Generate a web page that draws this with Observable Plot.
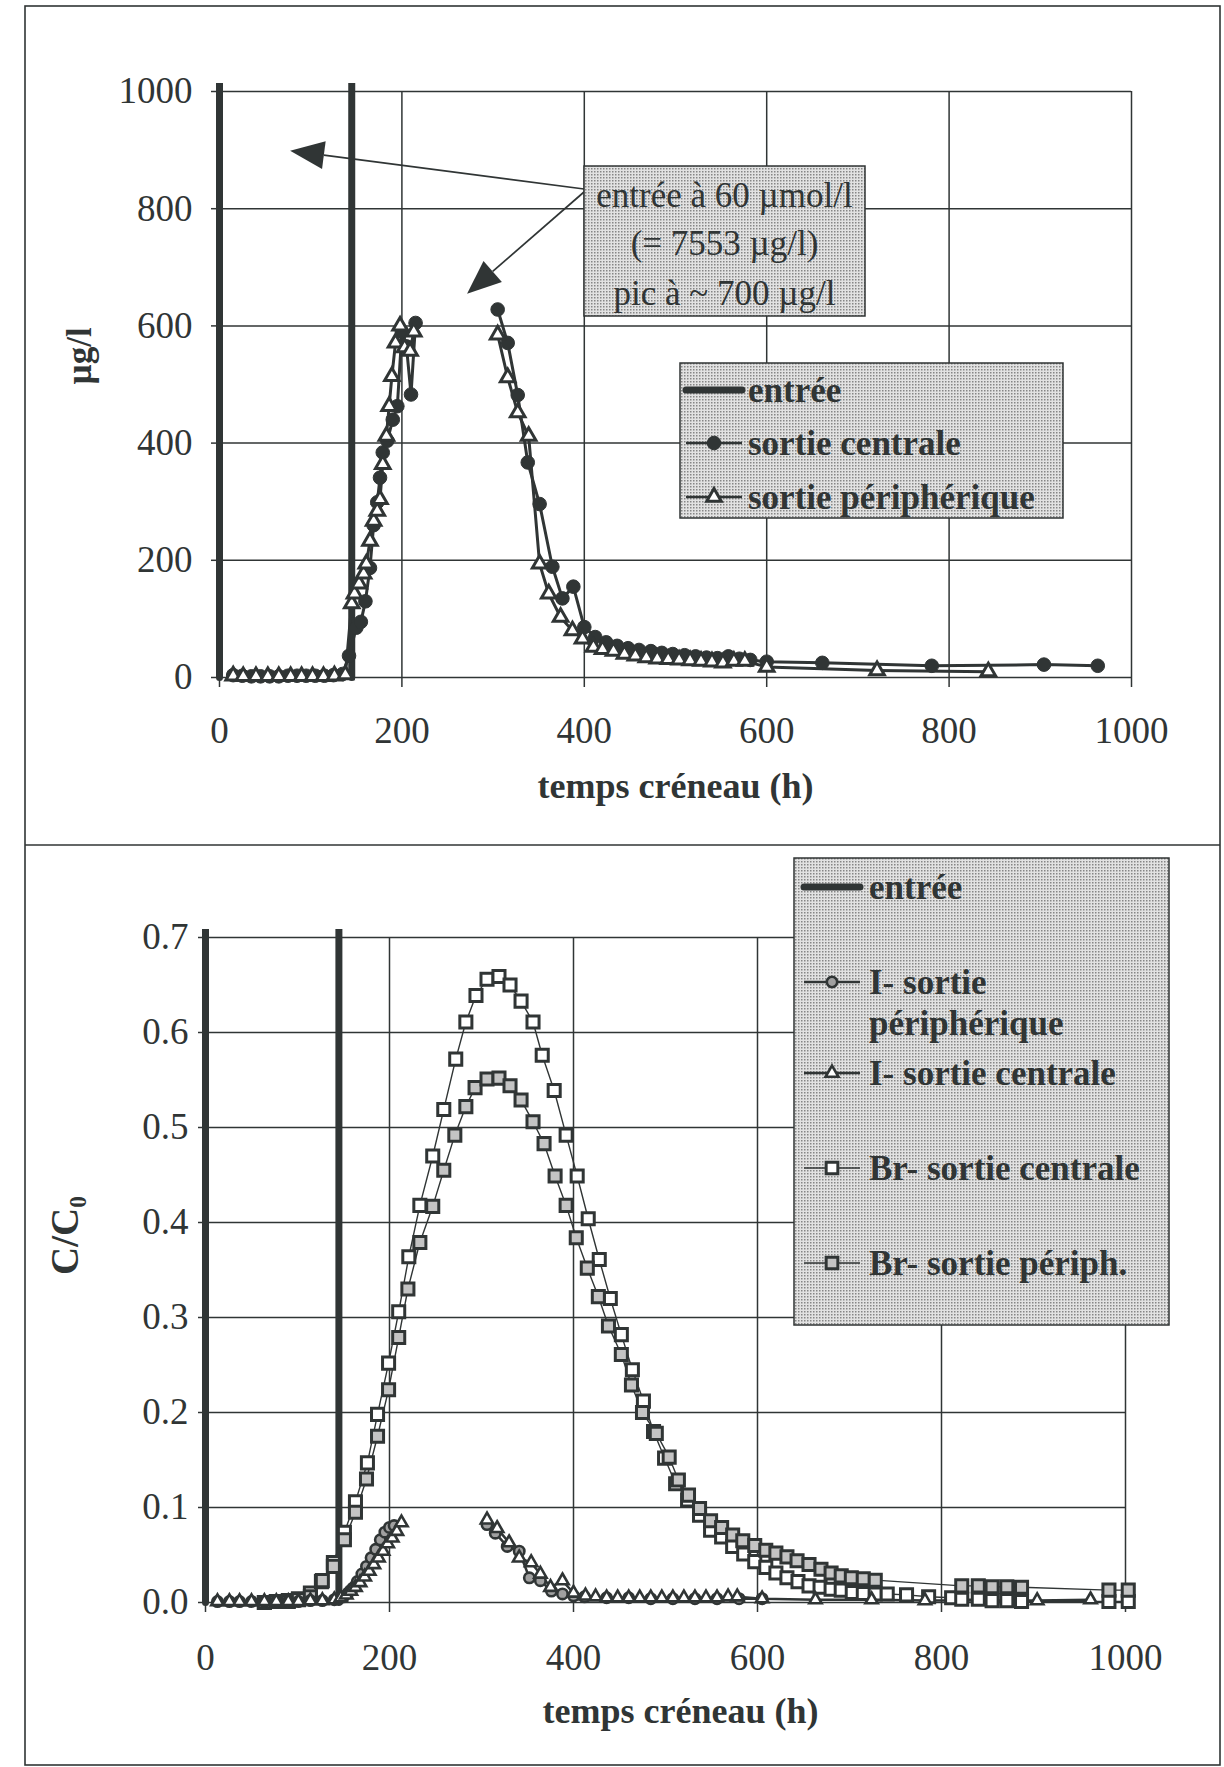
<!DOCTYPE html>
<html><head><meta charset="utf-8">
<script src="https://cdn.jsdelivr.net/npm/d3@7"></script>
<script src="https://cdn.jsdelivr.net/npm/@observablehq/plot@0.6"></script>
<style>
html,body{margin:0;padding:0;background:#fff;}
#wrap{position:relative;width:1224px;height:1767px;overflow:hidden;background:#fff;}
#top,#bottom{position:absolute;left:0;}
#top{top:0}
#bottom{top:845px}
</style></head><body><div id="wrap"><div id="top"></div><div id="bottom"></div></div>
<script>
const INK = "#303535";
const FONT = "'Liberation Serif','Times New Roman',serif";

// ---------- ticks ----------
const xTicks = [0, 200, 400, 600, 800, 1000];
const yTicksTop = [0, 200, 400, 600, 800, 1000];
const yTicksBottom = [0, 0.1, 0.2, 0.3, 0.4, 0.5, 0.6, 0.7];

// ---------- labels ----------
const xTitle = "temps créneau (h)";
const yTitleTop = "µg/l";
const yTitleBottom = "C/C₀";
const annotationLines = ["entrée à 60 µmol/l", "(= 7553 µg/l)", "pic à ~ 700 µg/l"];
const annotationTargets = [[78, 898], [272, 654]];
const legendTop = ["entrée", "sortie centrale", "sortie périphérique"];
const legendBottom = ["entrée", "I- sortie|périphérique", "I- sortie centrale", "Br- sortie centrale", "Br- sortie périph."];

// ---------- data: top panel (µg/l) ----------
const entreeTop = [[0, 0], [0, 7553], [145, 7553], [145, 0]];
const topCentral = [
 [15,4],[25,3],[35,2],[45,2],[55,2],[65,2],[75,3],[85,3],[95,3],[105,3],[115,3],[125,4],[135,6],[142,37],[150,85],[155,95],[160,130],[165,187],[169,260],[173,299],[176,341],[179,384],[184,404],[190,440],[195,463],[200,590],[205,565],[210,483],[215,605],
 null,
 [305,628],[316,571],[327,482],[338,367],[351,296],[365,189],[376,135],[388,155],[400,86],[412,69],[424,60],[436,54],[448,50],[460,47],[473,45],[485,42],[497,40],[510,38],[522,36],[534,34],[546,33],[558,36],[570,32],[582,30],[600,27],[661,25],[781,20],[904,22],[963,20]
];
const topPeripheral = [
 [15,3],[26,2],[40,2],[53,2],[65,2],[78,2],[90,2],[102,2],[114,2],[126,3],[138,5],[145,126],[148,143],[153,160],[158,177],[161,194],[165,233],[169,267],[173,284],[176,304],[179,364],[183,412],[186,463],[189,514],[193,571],[198,600],[203,563],[209,557],[213,590],
 null,
 [305,585],[316,512],[327,452],[339,412],[351,194],[361,143],[374,103],[387,80],[398,66],[410,52],[420,48],[432,45],[444,40],[456,37],[468,34],[480,32],[492,31],[504,30],[516,29],[528,28],[540,27],[552,25],[564,28],[576,28],[600,18],[721,12],[843,10]
];

// ---------- data: bottom panel (C/C0) ----------
const entreeBottom = [[0, 0], [0, 1], [145, 1], [145, 0]];
const iPeripheral = [
 [13,0.001],[26,0.001],[37,0.001],[50,0.001],[64,0.001],[77,0.001],[90,0.001],[101,0.001],[114,0.002],[127,0.002],[140,0.003],[145,0.004],[150,0.006],[155,0.010],[160,0.015],[165,0.022],[170,0.030],[175,0.038],[180,0.047],[185,0.056],[190,0.066],[195,0.074],[200,0.079],[205,0.081],
 null,
 [306,0.082],[315,0.073],[328,0.059],[341,0.054],[352,0.026],[364,0.023],[376,0.012],[388,0.009],[400,0.007],[412,0.006],[436,0.005],[460,0.005],[484,0.004],[508,0.004],[532,0.004],[556,0.004],[580,0.004],[605,0.004]
];
const iCentral = [
 [13,0.001],[26,0.001],[37,0.001],[50,0.001],[64,0.001],[77,0.001],[90,0.001],[101,0.001],[114,0.002],[127,0.002],[140,0.003],[147,0.005],[153,0.008],[158,0.012],[163,0.016],[168,0.021],[173,0.027],[178,0.033],[183,0.040],[188,0.047],[193,0.054],[198,0.062],[203,0.068],[208,0.075],[213,0.084],
 null,
 [306,0.087],[317,0.078],[330,0.063],[341,0.047],[354,0.042],[364,0.030],[375,0.016],[388,0.023],[400,0.010],[413,0.007],[424,0.006],[436,0.005],[448,0.005],[460,0.005],[472,0.005],[484,0.005],[496,0.005],[508,0.005],[520,0.005],[532,0.005],[544,0.005],[556,0.005],[568,0.006],[578,0.006],[605,0.004],[663,0.003],[724,0.003],[782,0.002],[904,0.002],[962,0.003]
];
const brCentral = [
 [64,0.000],[77,0.001],[90,0.002],[101,0.004],[114,0.010],[126,0.022],[139,0.042],[151,0.074],[163,0.106],[176,0.147],[187,0.198],[199,0.252],[210,0.306],[221,0.364],[233,0.418],[247,0.470],[259,0.519],[272,0.572],[283,0.611],[294,0.639],[306,0.656],[319,0.659],[331,0.650],[343,0.633],[356,0.611],[366,0.576],[379,0.539],[392,0.492],[404,0.449],[416,0.404],[428,0.361],[440,0.320],[452,0.282],[464,0.245],[476,0.212],[487,0.180],[499,0.152],[511,0.125],[524,0.108],[537,0.092],[549,0.076],[561,0.069],[573,0.059],[585,0.051],[597,0.043],[609,0.037],[620,0.031],[632,0.026],[644,0.022],[656,0.0175],[668,0.016],[680,0.014],[691,0.013],[703,0.0105],[715,0.0095],[728,0.009],[741,0.009],[762,0.008],[786,0.006],[811,0.005],[822,0.0035],[840,0.0035],[855,0.002],[871,0.002],[887,0.001],[982,0.001],[1003,0.001]
];
const brPeripheral = [
 [64,0.000],[77,0.001],[90,0.001],[101,0.003],[114,0.006],[127,0.023],[139,0.038],[151,0.066],[163,0.095],[175,0.130],[187,0.175],[199,0.224],[210,0.279],[220,0.330],[233,0.379],[247,0.417],[259,0.455],[271,0.492],[283,0.522],[293,0.542],[306,0.551],[319,0.552],[331,0.544],[343,0.529],[356,0.506],[368,0.483],[380,0.449],[392,0.418],[403,0.384],[415,0.352],[427,0.322],[438,0.291],[452,0.261],[463,0.229],[475,0.200],[490,0.178],[504,0.153],[514,0.129],[525,0.113],[537,0.099],[549,0.086],[561,0.079],[573,0.071],[584,0.065],[597,0.060],[609,0.055],[620,0.052],[632,0.048],[643,0.044],[656,0.040],[669,0.035],[680,0.031],[691,0.028],[702,0.026],[715,0.025],[728,0.0235],[822,0.0175],[840,0.0175],[855,0.0165],[871,0.0165],[887,0.016],[982,0.013],[1003,0.013]
];

const pts = arr => arr.map(d => d ? {x: d[0], y: d[1]} : {x: NaN, y: NaN});

function widenClip(svg) {
  svg.querySelectorAll("clipPath rect").forEach(r => {
    const x = +r.getAttribute("x"), y = +r.getAttribute("y");
    const w = +r.getAttribute("width"), h = +r.getAttribute("height");
    r.setAttribute("x", x - 8); r.setAttribute("y", y - 8);
    r.setAttribute("width", w + 16); r.setAttribute("height", h + 16);
  });
}

const baseStyle = {fontFamily: FONT, fontSize: "37px", color: INK, background: "transparent", overflow: "visible"};
const gridOpts = {stroke: INK, strokeOpacity: 1, strokeWidth: 1.5};

// ---------- top chart ----------
const topPlot = Plot.plot({
  width: 1224, height: 845,
  marginLeft: 219, marginRight: 93, marginTop: 91, marginBottom: 168,
  x: {domain: [0, 1000]}, y: {domain: [0, 1000]},
  style: baseStyle,
  marks: [
    Plot.gridY(yTicksTop, gridOpts),
    Plot.gridX(xTicks, gridOpts),
    Plot.axisX(xTicks, {tickSize: 10, tickPadding: 29, tickFormat: d => String(d), label: null, fontSize: 37, stroke: INK, strokeWidth: 1.5}),
    Plot.axisY(yTicksTop, {tickSize: 8, tickPadding: 19, tickFormat: d => String(d), label: null, fontSize: 37, stroke: INK, strokeWidth: 1.5}),
    Plot.line(pts(entreeTop), {x: "x", y: "y", stroke: INK, strokeWidth: 7, clip: true}),
    Plot.line(pts(topCentral), {x: "x", y: "y", stroke: INK, strokeWidth: 3}),
    Plot.line(pts(topPeripheral), {x: "x", y: "y", stroke: INK, strokeWidth: 3}),
    Plot.dot(pts(topCentral), {x: "x", y: "y", r: 6.8, fill: INK, stroke: INK, strokeWidth: 1}),
    Plot.dot(pts(topPeripheral), {x: "x", y: "y", symbol: "triangle", r: 5.4, fill: "white", stroke: INK, strokeWidth: 3}),
    Plot.text([xTitle], {text: d => d, frameAnchor: "bottom", dy: 120, fontWeight: "bold", fontSize: 36, fill: INK}),
    Plot.text([yTitleTop], {text: d => d, frameAnchor: "left", dx: -140, rotate: -90, fontWeight: "bold", fontSize: 35, fill: INK})
  ]
});
widenClip(topPlot);
document.getElementById("top").appendChild(topPlot);

// ---------- bottom chart ----------
const bottomPlot = Plot.plot({
  width: 1224, height: 922,
  marginLeft: 205, marginRight: 99, marginTop: 92, marginBottom: 165,
  x: {domain: [0, 1000]}, y: {domain: [0, 0.7]},
  style: baseStyle,
  marks: [
    Plot.gridY(yTicksBottom, gridOpts),
    Plot.gridX(xTicks, gridOpts),
    Plot.axisX(xTicks, {tickSize: 10, tickPadding: 31, tickFormat: d => String(d), label: null, fontSize: 37, stroke: INK, strokeWidth: 1.5}),
    Plot.axisY(yTicksBottom, {tickSize: 7, tickPadding: 10, tickFormat: d3.format(".1f"), label: null, fontSize: 37, stroke: INK, strokeWidth: 1.5}),
    Plot.line(pts(entreeBottom), {x: "x", y: "y", stroke: INK, strokeWidth: 7, clip: true}),
    Plot.line(pts(brCentral), {x: "x", y: "y", stroke: INK, strokeWidth: 1.4}),
    Plot.line(pts(brPeripheral), {x: "x", y: "y", stroke: INK, strokeWidth: 1.4}),
    Plot.line(pts(iPeripheral), {x: "x", y: "y", stroke: INK, strokeWidth: 2.5}),
    Plot.line(pts(iCentral), {x: "x", y: "y", stroke: INK, strokeWidth: 2.5}),
    Plot.dot(pts(brCentral), {x: "x", y: "y", symbol: "square", r: 6.8, fill: "white", stroke: INK, strokeWidth: 3}),
    Plot.dot(pts(brPeripheral), {x: "x", y: "y", symbol: "square", r: 6.8, fill: "#c4c4c4", stroke: INK, strokeWidth: 3}),
    Plot.dot(pts(iPeripheral), {x: "x", y: "y", r: 5.2, fill: "#a0a0a0", stroke: INK, strokeWidth: 2.6}),
    Plot.dot(pts(iCentral), {x: "x", y: "y", symbol: "triangle", r: 4.6, fill: "white", stroke: INK, strokeWidth: 2.6}),
    Plot.text([xTitle], {text: d => d, frameAnchor: "bottom", dx: 15, dy: 120, fontWeight: "bold", fontSize: 36, fill: INK}),
    Plot.text([yTitleBottom], {text: d => d, frameAnchor: "left", dx: -140, dy: 5, rotate: -90, fontWeight: "bold", fontSize: 39, fill: INK})
  ]
});
widenClip(bottomPlot);
document.getElementById("bottom").appendChild(bottomPlot);

// ---------- overlay: frame, annotation, legends ----------
const ov = d3.create("svg")
  .attr("width", 1224).attr("height", 1767)
  .style("position", "absolute").style("left", "0px").style("top", "0px")
  .style("font-family", FONT);
const pat = ov.append("defs").append("pattern")
  .attr("id", "dots").attr("width", 3).attr("height", 3).attr("patternUnits", "userSpaceOnUse");
pat.append("rect").attr("width", 3).attr("height", 3).attr("fill", "#e2e2e2");
pat.append("rect").attr("width", 1.5).attr("height", 1.5).attr("fill", "#868686");

// outer frame and divider
ov.append("rect").attr("x", 25).attr("y", 6).attr("width", 1195).attr("height", 1759)
  .attr("fill", "none").attr("stroke", INK).attr("stroke-width", 1.6);
ov.append("line").attr("x1", 25).attr("x2", 1220).attr("y1", 845).attr("y2", 845)
  .attr("stroke", INK).attr("stroke-width", 1.6);

// annotation arrows (targets through the top chart's scales)
const sx = topPlot.scale("x"), sy = topPlot.scale("y");
const arrowStarts = [[584, 189], [584, 192]];
annotationTargets.forEach((t, i) => {
  const [x0, y0] = arrowStarts[i];
  const x1 = sx.apply(t[0]), y1 = sy.apply(t[1]);
  const dx = x1 - x0, dy = y1 - y0, L = Math.hypot(dx, dy);
  const ux = dx / L, uy = dy / L, hl = 34, hw = 14;
  const bx = x1 - ux * hl, by = y1 - uy * hl;
  ov.append("line").attr("x1", x0).attr("y1", y0).attr("x2", bx).attr("y2", by)
    .attr("stroke", INK).attr("stroke-width", 1.7);
  ov.append("polygon")
    .attr("points", [[x1, y1], [bx - uy * hw, by + ux * hw], [bx + uy * hw, by - ux * hw]].map(p => p.join(",")).join(" "))
    .attr("fill", INK);
});

// annotation box
ov.append("rect").attr("x", 584).attr("y", 166).attr("width", 281).attr("height", 150)
  .attr("fill", "url(#dots)").attr("stroke", INK).attr("stroke-width", 1.5);
annotationLines.forEach((s, i) => {
  ov.append("text").attr("x", 724.5).attr("y", [195, 243, 293][i])
    .attr("text-anchor", "middle").attr("dominant-baseline", "central")
    .attr("font-size", 35).attr("fill", INK).text(s);
});

function legendSymbol(g, kind, x1, x2, y) {
  const cx = (x1 + x2) / 2;
  if (kind === "entree") {
    g.append("line").attr("x1", x1).attr("x2", x2).attr("y1", y).attr("y2", y)
      .attr("stroke", INK).attr("stroke-width", 7).attr("stroke-linecap", "round");
    return;
  }
  g.append("line").attr("x1", x1).attr("x2", x2).attr("y1", y).attr("y2", y)
    .attr("stroke", INK).attr("stroke-width", kind.startsWith("sq") ? 1.6 : 2.6);
  const spec = {
    dot: {type: d3.symbolCircle, r: 6.8, fill: INK, sw: 1},
    tri: {type: d3.symbolTriangle, r: 5.4, fill: "white", sw: 3},
    gcirc: {type: d3.symbolCircle, r: 5.2, fill: "#a0a0a0", sw: 2.6},
    tri2: {type: d3.symbolTriangle, r: 4.8, fill: "white", sw: 2.6},
    sqw: {type: d3.symbolSquare, r: 6.6, fill: "white", sw: 3},
    sqg: {type: d3.symbolSquare, r: 6.6, fill: "#c4c4c4", sw: 3}
  }[kind];
  g.append("path").attr("transform", `translate(${cx},${y})`)
    .attr("d", d3.symbol(spec.type, Math.PI * spec.r * spec.r)())
    .attr("fill", spec.fill).attr("stroke", INK).attr("stroke-width", spec.sw);
}

// top legend
const lt = ov.append("g");
lt.append("rect").attr("x", 680).attr("y", 363).attr("width", 383).attr("height", 155)
  .attr("fill", "url(#dots)").attr("stroke", INK).attr("stroke-width", 1.5);
const ltKinds = ["entree", "dot", "tri"], ltY = [390, 443, 497];
legendTop.forEach((s, i) => {
  legendSymbol(lt, ltKinds[i], 686, 742, ltY[i]);
  lt.append("text").attr("x", 748).attr("y", ltY[i]).attr("dominant-baseline", "central")
    .attr("font-size", 35).attr("font-weight", "bold").attr("fill", INK).text(s);
});

// bottom legend
const lb = ov.append("g");
lb.append("rect").attr("x", 794).attr("y", 858).attr("width", 375).attr("height", 467)
  .attr("fill", "url(#dots)").attr("stroke", INK).attr("stroke-width", 1.5);
const lbKinds = ["entree", "gcirc", "tri2", "sqw", "sqg"], lbY = [887, 982, 1073, 1168, 1263];
legendBottom.forEach((s, i) => {
  legendSymbol(lb, lbKinds[i], 804, 860, lbY[i]);
  s.split("|").forEach((part, j) => {
    lb.append("text").attr("x", 869).attr("y", lbY[i] + j * 41).attr("dominant-baseline", "central")
      .attr("font-size", 35).attr("font-weight", "bold").attr("fill", INK).text(part);
  });
});

document.getElementById("wrap").appendChild(ov.node());
</script></body></html>
